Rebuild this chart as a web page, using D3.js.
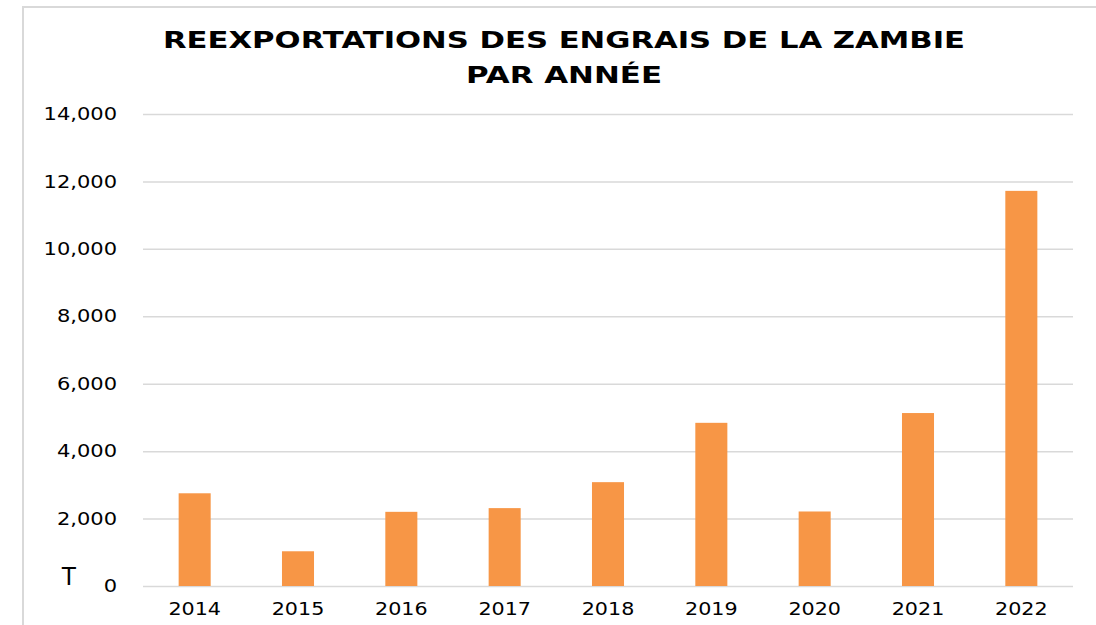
<!DOCTYPE html>
<html>
<head>
<meta charset="utf-8">
<script src="https://cdn.jsdelivr.net/npm/d3@7"></script>
<style>
  body { margin: 0; background: #fff; }
</style>
</head>
<body>
<div id="chart"></div>
<script>
// Chart data
var years = ["2014", "2015", "2016", "2017", "2018", "2019", "2020", "2021", "2022"];
var tonnes = [2750, 1030, 2200, 2310, 3080, 4840, 2210, 5130, 11720];
var yTicks = [0, 2000, 4000, 6000, 8000, 10000, 12000, 14000];
var titleLines = ["REEXPORTATIONS DES ENGRAIS DE LA ZAMBIE", "PAR ANNÉE"];
var unitLabel = "T";

var width = 1096;
var height = 625;
var plot = {left: 143, right: 1073, top: 114, bottom: 586};

var svg = d3.select("#chart").append("svg")
    .attr("width", width)
    .attr("height", height);

// outer chart border (cut off at right / bottom)
svg.append("rect")
    .attr("x", 23)
    .attr("y", 7)
    .attr("width", width + 20)
    .attr("height", height + 20)
    .style("fill", "none")
    .style("stroke", "#d9d9d9")
    .style("stroke-width", 2);

var x = d3.scaleBand()
    .domain(years)
    .range([plot.left, plot.right])
    .paddingInner(0.69)
    .paddingOuter(0.345);

var y = d3.scaleLinear()
    .domain([0, 14000])
    .range([plot.bottom, plot.top]);

// stretch text horizontally like the reference
function stretch(sel, factor) {
    sel.each(function() {
        var len = this.getComputedTextLength();
        d3.select(this).attr("textLength", len * factor).attr("lengthAdjust", "spacingAndGlyphs");
    });
}

// gridlines
svg.append("g")
    .attr("transform", "translate(" + plot.left + ",0)")
    .call(d3.axisLeft(y).tickValues(yTicks).tickSize(-(plot.right - plot.left)).tickFormat(""))
    .call(function(g) { g.select(".domain").remove(); })
    .selectAll("line")
    .style("stroke", "#d9d9d9")
    .style("stroke-width", 1.5);

// y axis labels
var yAxis = svg.append("g")
    .attr("transform", "translate(117,0)")
    .call(d3.axisLeft(y).tickValues(yTicks).tickSize(0).tickPadding(0).tickFormat(d3.format(",")));
yAxis.select(".domain").remove();
yAxis.selectAll("text")
    .style("font-family", "DejaVu Sans")
    .style("font-size", "17.5px")
    .style("fill", "#000")
    .call(stretch, 1.2);

// x axis labels
var xAxis = svg.append("g")
    .attr("transform", "translate(0," + plot.bottom + ")")
    .call(d3.axisBottom(x).tickSize(0).tickPadding(17));
xAxis.select(".domain").remove();
xAxis.selectAll("text")
    .style("font-family", "DejaVu Sans")
    .style("font-size", "17.5px")
    .style("fill", "#000")
    .call(stretch, 1.18);

// bars
svg.selectAll(".bar")
    .data(years)
    .enter().append("rect")
    .attr("class", "bar")
    .attr("x", function(d) { return x(d); })
    .attr("width", x.bandwidth())
    .attr("y", function(d, i) { return y(tonnes[i]); })
    .attr("height", function(d, i) { return y(0) - y(tonnes[i]); })
    .style("fill", "#f79646");

// unit label
svg.append("text")
    .attr("x", 69)
    .attr("y", 585)
    .style("text-anchor", "middle")
    .style("font-family", "Liberation Sans")
    .style("font-size", "25px")
    .style("fill", "#000")
    .text(unitLabel);

// title
var titleLen = [802, 196];
svg.selectAll(".title")
    .data(titleLines)
    .enter().append("text")
    .attr("class", "title")
    .attr("x", 564)
    .attr("y", function(d, i) { return 48 + i * 35; })
    .attr("textLength", function(d, i) { return titleLen[i]; })
    .attr("lengthAdjust", "spacingAndGlyphs")
    .style("text-anchor", "middle")
    .style("font-family", "DejaVu Sans")
    .style("font-weight", "bold")
    .style("font-size", "23.5px")
    .style("fill", "#000")
    .text(function(d) { return d; });
</script>
</body>
</html>
